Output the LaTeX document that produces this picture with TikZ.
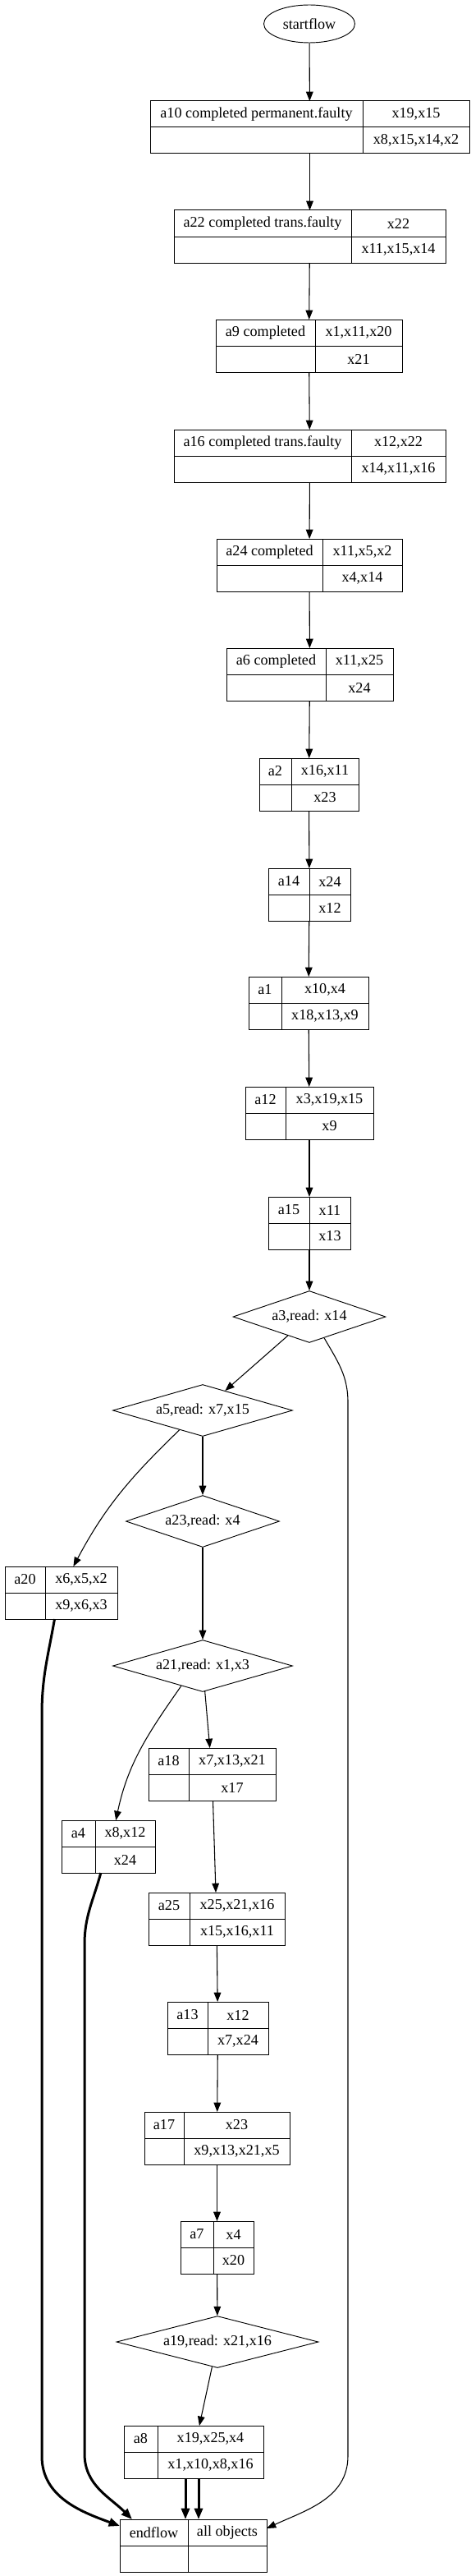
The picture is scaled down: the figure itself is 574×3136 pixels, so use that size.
\documentclass[tikz,border=0pt]{standalone}
\usepackage{fontspec}
\setmainfont{Liberation Serif}
\usetikzlibrary{arrows.meta,shapes.geometric,calc}

\tikzset{
  recbox/.style={draw, line width=0.75pt, minimum height=48pt, inner sep=0pt, outer sep=0pt},
  recline/.style={line width=0.75pt},
  celltext/.style={inner sep=0pt},
  dia/.style={draw, shape=diamond, line width=0.7pt, aspect=3.5, inner sep=0pt,
    minimum height=47.25pt, minimum width=#1*0.75pt},
  flow/.style={line width=0.8pt, -{Triangle[length=8.5pt,width=6.5pt]}},
  heavyedge/.style={line width=2.25pt, -{Triangle[length=10pt,width=7.5pt]}},
}

% record: name, left, divider, right, top, label, upper, lower
\newcommand{\recnode}[8]{%
  \node[recbox, minimum width={(#4-#2)*0.75pt}] (#1) at ({(#2+#4)/2},{#5+32}) {};
  \draw[recline] (#1.west) -- (#1.east);
  \draw[recline] (#3,#5) -- (#3,{#5+64});
  \node[celltext] (#1-lab) at ({(#2+#3)/2},{#5+16}) {#6};
  \node[celltext] (#1-top) at ({(#3+#4)/2},{#5+16}) {#7};
  \node[celltext] (#1-bot) at ({(#3+#4)/2},{#5+48}) {#8};
}

\begin{document}
\begin{tikzpicture}[x=0.75pt, y=-0.75pt, font=\fontsize{13.6}{16}\selectfont]
    \fill[white] (0,0) rectangle (574,3136);
    \useasboundingbox (0,0) rectangle (574,3136);

    \node[draw, ellipse, line width=0.7pt, inner sep=0pt, minimum width=83.25pt, minimum height=34.5pt] (start) at (377,29) {startflow};
    \recnode{a10}{183}{442}{572}{123}{a10 completed permanent.faulty}{x19,x15}{x8,x15,x14,x2}
    \recnode{a22}{212}{428}{543}{256}{a22 completed trans.faulty}{x22}{x11,x15,x14}
    \recnode{a9}{263}{384}{490}{389}{a9 completed}{x1,x11,x20}{x21}
    \recnode{a16}{212}{428}{543}{523}{a16 completed trans.faulty}{x12,x22}{x14,x11,x16}
    \recnode{a24}{264}{393}{490}{656}{a24 completed}{x11,x5,x2}{x4,x14}
    \recnode{a6}{276}{397}{479}{789}{a6 completed}{x11,x25}{x24}
    \recnode{a2}{316}{355}{437}{923}{a2}{x16,x11}{x23}
    \recnode{a14}{327}{377}{427}{1057}{a14}{x24}{x12}
    \recnode{a1}{303}{343}{449}{1189}{a1}{x10,x4}{x18,x13,x9}
    \recnode{a12}{299}{348}{455}{1323}{a12}{x3,x19,x15}{x9}
    \recnode{a15}{327}{377}{427}{1457}{a15}{x11}{x13}
    \node[dia=186] (a3) at (377,1603) {a3,read: x14};
    \node[dia=219] (a5) at (247,1717) {a5,read: x7,x15};
    \node[dia=187] (a23) at (247,1852) {a23,read: x4};
    \recnode{a20}{6}{55}{143}{1907}{a20}{x6,x5,x2}{x9,x6,x3}
    \node[dia=219] (a21) at (247,2028) {a21,read: x1,x3};
    \recnode{a18}{181}{230}{336}{2128}{a18}{x7,x13,x21}{x17}
    \recnode{a4}{75}{116}{189}{2216}{a4}{x8,x12}{x24}
    \recnode{a25}{181}{231}{347}{2304}{a25}{x25,x21,x16}{x15,x16,x11}
    \recnode{a13}{204}{253}{327}{2437}{a13}{x12}{x7,x24}
    \recnode{a17}{176}{224}{353}{2571}{a17}{x23}{x9,x13,x21,x5}
    \recnode{a7}{220}{260}{309}{2704}{a7}{x4}{x20}
    \node[dia=246] (a19) at (265,2851) {a19,read: x21,x16};
    \recnode{a8}{151}{192}{321}{2953}{a8}{x19,x25,x4}{x1,x10,x8,x16}
    \recnode{endflow}{146}{229}{325}{3067}{endflow}{all objects}{}

    % bends of the long edges
    \coordinate (rtop) at (424,1707);
    \coordinate (rbot) at (424,2990);
    \coordinate (ltop) at (51,2087);
    \coordinate (lbot) at (51,2990);
    \coordinate (mtop) at (103,2367);
    \coordinate (mbot) at (103,2987);

    \draw[flow] (start) -- (a10);
    \draw[flow] (a10) -- (a22);
    \draw[flow] (a22) -- (a9);
    \draw[flow] (a9) -- (a16);
    \draw[flow] (a16) -- (a24);
    \draw[flow] (a24) -- (a6);
    \draw[flow] (a6) -- (a2);
    \draw[flow] (a2) -- (a14);
    \draw[flow] (a14) -- (a1);
    \draw[flow] (a1) -- (a12);
    \draw[flow] (a12) -- (a15);
    \draw[flow] (a15) -- (a3);
    \draw[flow] (a3) -- (a5);
    \draw[flow] (a3.-55) to[out=-60,in=90] (rtop) -- (rbot) to[out=-90,in=25] ($(endflow.north east)+(0,11)$);
    \draw[flow] (a5.-140) to[out=-136,in=62] (a20.65);
    \draw[flow] (a5) -- (a23);
    \draw[flow] (a23) -- (a21);
    \draw[heavyedge] (a20.-104) to[out=-100,in=90] (ltop) -- (lbot) to[out=-90,in=160] ($(endflow.north west)+(0,8)$);
    \draw[flow] (a21) -- (a18);
    \draw[flow] (a21.-137) to[out=-125,in=78] (a4.74);
    \draw[heavyedge] (a4.-106) to[out=-105,in=90] (mtop) -- (mbot) to[out=-90,in=135] ($(endflow.north west)+(15,0)$);
    \draw[flow] (a18) -- (a25);
    \draw[flow] (a25) -- (a13);
    \draw[flow] (a13) -- (a17);
    \draw[flow] (a17) -- (a7);
    \draw[flow] (a7) -- (a19);
    \draw[flow] (a19) -- (a8);
    \draw[heavyedge] ($(a8.south)+(-10,0)$) -- ($(a8.south |- endflow.north)+(-10,0)$);
    \draw[heavyedge] ($(a8.south)+(6,0)$) -- ($(a8.south |- endflow.north)+(6,0)$);
\end{tikzpicture}
\end{document}
